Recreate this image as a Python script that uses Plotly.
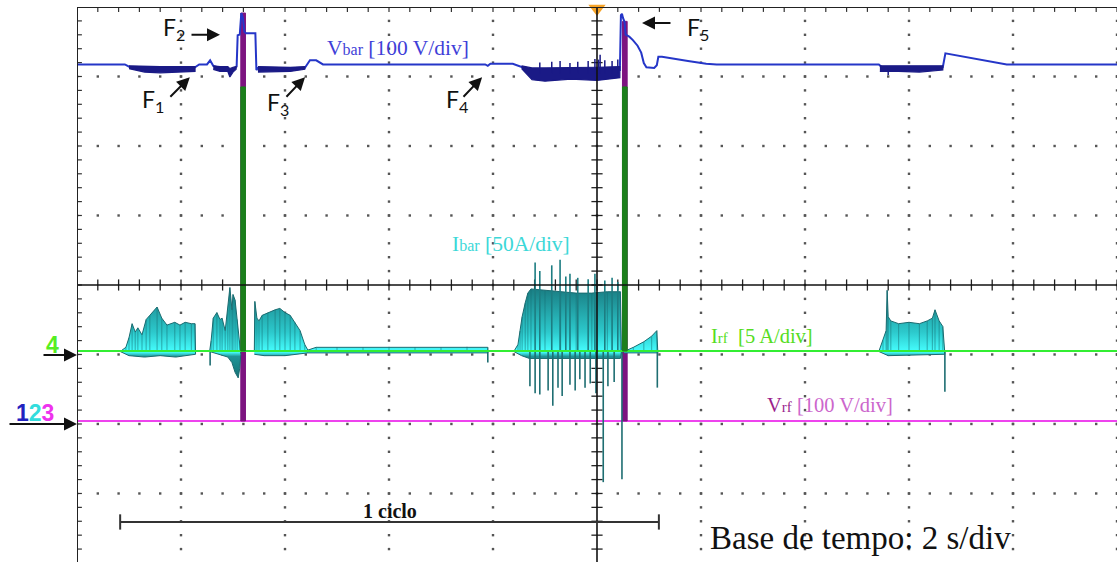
import numpy as np
import plotly.graph_objects as go

# ------------------------------------------------------------------ data
# time base 2 s/div, 10 divisions -> 0..20 s
TIME_PER_DIV = 2.0
N_DIV_X = 10

# Vbar [V] (100 V/div), main trace
vbar_t = [0.00, 0.92, 1.02, 2.27, 2.35, 2.50, 2.56, 2.62, 2.70, 2.90, 2.94, 3.00, 3.07,
          3.09, 3.13, 3.16, 3.19, 3.22, 3.25, 3.43, 3.45, 3.48, 4.38, 4.48, 4.60, 4.73,
          7.85, 7.90, 7.95, 8.38, 8.71, 10.44, 10.46, 10.48, 10.50, 10.53, 10.55, 10.62,
          10.69, 10.78, 10.85, 10.90, 10.95, 11.10, 11.15, 11.18, 11.25, 11.45, 11.75,
          12.10, 12.30, 15.42, 15.48, 16.65, 16.70, 17.88, 20.00]
vbar_v = [513, 513, 509, 509, 513, 513, 519, 511, 509, 508, 500, 506, 510,
          555, 556, 587, 580, 560, 558, 558, 505, 508, 508, 519, 519, 513,
          513, 511, 514, 514, 505, 505, 584, 586, 580, 574, 556, 553,
          548, 540, 530, 515, 509, 508, 512, 524, 524, 522, 518,
          514, 513, 513, 509, 509, 529, 513, 513]

# Vbar noisy segments (upper / lower envelope) [V]
vbar_f1_t = [1.00, 1.30, 1.60, 1.90, 2.27]
vbar_f1_hi = [511, 510, 510, 510, 510]
vbar_f1_lo = [507, 502, 501, 502, 503]
vbar_f2_t = [2.62, 2.75, 2.90, 2.94, 3.00, 3.06]
vbar_f2_hi = [511, 510, 510, 507, 509, 510]
vbar_f2_lo = [506, 503, 503, 495, 502, 506]
vbar_f3_t = [3.48, 3.80, 4.10, 4.38]
vbar_f3_hi = [510, 509, 509, 510]
vbar_f3_lo = [502, 502, 503, 506]
vbar_f4_t = [8.55, 8.75, 9.00, 9.50, 10.00, 10.44]
vbar_f4_hi = [511, 508, 508, 508, 509, 510]
vbar_f4_lo = [507, 491, 489, 492, 490, 494]
vbar_f6_t = [15.44, 15.80, 16.20, 16.65]
vbar_f6_hi = [511, 511, 511, 511]
vbar_f6_lo = [503, 503, 502, 505]
# Vbar spikes inside noisy segments [V]
vbar_spk_t = [8.90, 9.13, 9.29, 9.48, 9.63, 9.83, 9.96, 10.03, 10.06, 10.15, 10.29, 10.40, 15.60]
vbar_spk_hi = [516, 517, 518, 515, 517, 518, 521, 520, 527, 519, 518, 520, 508]
vbar_spk_lo = [500, 500, 500, 500, 500, 500, 500, 500, 500, 500, 500, 500, 498]

# Ibar [A] (50 A/div) bursts: upper envelope, lower envelope
ibar_b1_t = [0.83, 0.94, 1.00, 1.06, 1.12, 1.17, 1.25, 1.33, 1.40, 1.54, 1.63, 1.73,
             1.88, 1.98, 2.08, 2.20, 2.27, 2.28]
ibar_b1_hi = [50, 53, 60, 70, 64, 67, 62, 73, 76, 82, 74, 69, 71, 69, 71, 70, 70, 50]
ibar_b1_lt = [0.83, 1.00, 1.30, 1.60, 1.90, 2.28]
ibar_b1_lo = [50, 47, 46, 47, 46, 48]
ibar_b2_t = [2.55, 2.58, 2.62, 2.69, 2.75, 2.79, 2.85, 2.90, 2.94, 2.98, 3.00, 3.04, 3.08, 3.13, 3.15]
ibar_b2_hi = [50, 58, 74, 78, 73, 74, 65, 80, 96, 80, 91, 87, 73, 58, 50]
ibar_b2_lt = [2.55, 2.90, 2.98, 3.04, 3.10, 3.13, 3.15]
ibar_b2_lo = [50, 46, 42, 35, 31, 38, 48]
ibar_b3_t = [3.41, 3.42, 3.46, 3.50, 3.56, 3.67, 3.81, 3.90, 4.00, 4.10, 4.19, 4.29, 4.38, 4.44]
ibar_b3_hi = [50, 86, 74, 72, 76, 78, 80, 81, 78, 76, 71, 65, 55, 51]
ibar_b3_lt = [3.41, 3.60, 4.00, 4.44]
ibar_b3_lo = [48, 47, 47, 49]
ibar_rp_t = [4.44, 4.60, 5.00, 5.50, 6.00, 6.50, 7.00, 7.50, 7.90]
ibar_rp_hi = [51, 53, 53, 53, 53.5, 53, 53, 53.5, 53]
ibar_rp_lt = [4.44, 7.90]
ibar_rp_lo = [49, 49]
ibar_b4_t = [8.40, 8.48, 8.52, 8.56, 8.62, 8.67, 8.73, 9.00, 9.30, 9.60, 9.90, 10.20, 10.45, 10.47]
ibar_b4_hi = [50, 55, 65, 75, 85, 92, 95, 94, 93, 92, 92, 93, 93, 50]
ibar_b4_lt = [8.40, 8.55, 8.70, 10.45, 10.47]
ibar_b4_lo = [50, 47, 45, 45, 50]
ibar_b5_t = [10.52, 10.70, 10.90, 11.05, 11.15, 11.17]
ibar_b5_hi = [50, 53, 57, 61, 65, 50]
ibar_b5_lt = [10.52, 11.17]
ibar_b5_lo = [49, 49]
ibar_b6_t = [15.42, 15.50, 15.56, 15.58, 15.60, 15.65, 15.80, 16.00, 16.20, 16.35, 16.45, 16.50, 16.58, 16.65, 16.69]
ibar_b6_hi = [50, 58, 65, 94, 75, 72, 70, 71, 70, 72, 74, 80, 72, 68, 50]
ibar_b6_lt = [15.42, 15.60, 16.69]
ibar_b6_lo = [50, 47, 48]
# Ibar upward spikes [A]
ibar_up_t = [8.81, 8.90, 9.13, 9.29, 9.40, 9.48, 9.63, 9.83, 9.96, 10.15, 10.29, 10.40]
ibar_up_hi = [114, 108, 112, 116, 104, 106, 103, 102, 106, 101, 103, 100]
# Ibar downward spikes [A]
ibar_dn_t = [2.56, 7.90, 8.71, 8.81, 8.90, 9.06, 9.15, 9.25, 9.33, 9.48, 9.58, 9.67, 9.77,
             9.87, 9.98, 10.12, 10.21, 10.33, 10.48, 11.16, 16.69]
ibar_dn_lo = [40, 42, 25, 20, 19, 22, 11, 24, 18, 26, 22, 30, 24,
              27, 20, -44, 25, 28, -42, 24, 21]

# Irf [A] (5 A/div): pulses
irf_pulse_t0 = [3.15, 10.49]
irf_pulse_t1 = [3.24, 10.58]
irf_pulse_a = [19, 19]
irf_level = 0.0

# Vrf [V] (100 V/div): pulses
vrf_pulse_t0 = [3.15, 10.49]
vrf_pulse_t1 = [3.24, 10.58]
vrf_pulse_v = [587, 575]
vrf_level = 0.0

# measured cycle [s]
cycle_start = 0.83
cycle_end = 11.19

# ------------------------------------------------------------------ layout constants
Y_TOP, Y_BOT = 4.0, -3.986          # screen divisions shown
GND_123 = -1.957                    # ground marker of channels 1,2,3 (div)
GND_4 = -0.950                      # ground marker of channel 4 (div)
V_DIV, IBAR_DIV, IRF_DIV = 100, 50, 5
X_MAX = TIME_PER_DIV * N_DIV_X
L_MARGIN, PLOT_W = 77, 1040


def rng(gnd, scale):
    return [(Y_BOT - gnd) * scale, (Y_TOP - gnd) * scale]


def poly(t, hi, tl, lo):
    return list(t) + list(tl)[::-1], list(hi) + list(lo)[::-1]


def segs(ts, lo, hi):
    xs, ys = [], []
    for a, b, c in zip(ts, lo, hi):
        xs += [a, a, None]
        ys += [b, c, None]
    return xs, ys


fig = go.Figure()

# ---- Ibar (y3)
ibar_grad = dict(type='vertical', start=20, stop=100,
                 colorscale=[[0.0, '#0f5a5e'], [0.33, '#1f9497'], [0.37, '#46ffff'],
                             [0.55, '#2cc9cc'], [1.0, '#177278']])
bursts = [(ibar_b1_t, ibar_b1_hi, ibar_b1_lt, ibar_b1_lo),
          (ibar_b2_t, ibar_b2_hi, ibar_b2_lt, ibar_b2_lo),
          (ibar_b3_t, ibar_b3_hi, ibar_b3_lt, ibar_b3_lo),
          (ibar_rp_t, ibar_rp_hi, ibar_rp_lt, ibar_rp_lo),
          (ibar_b4_t, ibar_b4_hi, ibar_b4_lt, ibar_b4_lo),
          (ibar_b5_t, ibar_b5_hi, ibar_b5_lt, ibar_b5_lo),
          (ibar_b6_t, ibar_b6_hi, ibar_b6_lt, ibar_b6_lo)]
for t, hi, tl, lo in bursts:
    px_, py_ = poly(t, hi, tl, lo)
    fig.add_trace(go.Scatter(x=px_, y=py_, yaxis='y3', mode='lines', fill='toself',
                             fillgradient=ibar_grad, line=dict(color='#1b6b70', width=1),
                             hoverinfo='skip', showlegend=False))
# vertical streak texture inside the bursts
sx, sy = [], []
for t, hi, tl, lo in bursts:
    a, b = segs(t, [50] * len(t), hi)
    sx += a
    sy += b
fig.add_trace(go.Scatter(x=sx, y=sy, yaxis='y3', mode='lines',
                         line=dict(color='rgba(22,110,115,0.45)', width=1.2),
                         showlegend=False, hoverinfo='skip'))
xs, ys = segs(ibar_up_t, [50] * len(ibar_up_t), ibar_up_hi)
fig.add_trace(go.Scatter(x=xs, y=ys, yaxis='y3', mode='lines',
                         line=dict(color='#1d7d82', width=1.6), showlegend=False, hoverinfo='skip'))
xs, ys = segs(ibar_dn_t, ibar_dn_lo, [50] * len(ibar_dn_t))
fig.add_trace(go.Scatter(x=xs, y=ys, yaxis='y3', mode='lines',
                         line=dict(color='#1e6e72', width=1.6), showlegend=False, hoverinfo='skip'))

# ---- Vrf (y2)
fig.add_trace(go.Scatter(x=[0, X_MAX], y=[vrf_level, vrf_level], yaxis='y2', mode='lines',
                         line=dict(color='#ee44ee', width=2), showlegend=False, hoverinfo='skip'))
for a, b, v in zip(vrf_pulse_t0, vrf_pulse_t1, vrf_pulse_v):
    fig.add_trace(go.Scatter(x=[a, a, b, b, a], y=[vrf_level, v, v, vrf_level, vrf_level],
                             yaxis='y2', mode='lines', fill='toself', fillcolor='#7d1480',
                             line=dict(color='#7d1480', width=1), showlegend=False, hoverinfo='skip'))

# ---- Irf (y4)
fig.add_trace(go.Scatter(x=[0, X_MAX], y=[irf_level, irf_level], yaxis='y4', mode='lines',
                         line=dict(color='#33ee33', width=2), showlegend=False, hoverinfo='skip'))
for a, b, v in zip(irf_pulse_t0, irf_pulse_t1, irf_pulse_a):
    fig.add_trace(go.Scatter(x=[a, a, b, b, a], y=[irf_level, v, v, irf_level, irf_level],
                             yaxis='y4', mode='lines', fill='toself', fillcolor='#1c7f1c',
                             line=dict(color='#1c7f1c', width=1), showlegend=False, hoverinfo='skip'))

# ---- Vbar (y2)
fig.add_trace(go.Scatter(x=vbar_t, y=vbar_v, yaxis='y2', mode='lines',
                         line=dict(color='#2536c8', width=2), showlegend=False, hoverinfo='skip'))
for t, hi, lo in [(vbar_f1_t, vbar_f1_hi, vbar_f1_lo), (vbar_f2_t, vbar_f2_hi, vbar_f2_lo),
                  (vbar_f3_t, vbar_f3_hi, vbar_f3_lo), (vbar_f4_t, vbar_f4_hi, vbar_f4_lo),
                  (vbar_f6_t, vbar_f6_hi, vbar_f6_lo)]:
    px_, py_ = poly(t, hi, t, lo)
    fig.add_trace(go.Scatter(x=px_, y=py_, yaxis='y2', mode='lines', fill='toself',
                             fillcolor='#1a1a86', line=dict(color='#1a1a86', width=1.2),
                             showlegend=False, hoverinfo='skip'))
xs, ys = segs(vbar_spk_t, vbar_spk_lo, vbar_spk_hi)
fig.add_trace(go.Scatter(x=xs, y=ys, yaxis='y2', mode='lines',
                         line=dict(color='#1a1a86', width=1.5), showlegend=False, hoverinfo='skip'))

# ---- graticule (dots and ticks)
minor_x = np.arange(0, X_MAX + 1e-9, TIME_PER_DIV / 5)
minor_y = np.arange(-4, 4 + 1e-9, 0.2)
gx, gy = [], []
for yy in [-3, -2, -1, 1, 2, 3]:
    gx += list(minor_x)
    gy += [yy] * len(minor_x)
for xx in np.arange(TIME_PER_DIV, X_MAX + 1e-9, TIME_PER_DIV):
    if abs(xx - X_MAX / 2) < 1e-6:
        continue
    gx += [xx] * len(minor_y)
    gy += list(minor_y)
fig.add_trace(go.Scatter(x=gx, y=gy, mode='markers',
                         marker=dict(symbol='square', size=2.4, color='#555555'),
                         showlegend=False, hoverinfo='skip'))
fig.add_trace(go.Scatter(x=minor_x, y=[0] * len(minor_x), mode='markers',
                         marker=dict(symbol='line-ns', size=8, line=dict(color='#222', width=1.3)),
                         showlegend=False, hoverinfo='skip'))
fig.add_trace(go.Scatter(x=[X_MAX / 2] * len(minor_y), y=minor_y, mode='markers',
                         marker=dict(symbol='line-ew', size=8, line=dict(color='#222', width=1.3)),
                         showlegend=False, hoverinfo='skip'))
fig.add_trace(go.Scatter(x=[0] * len(minor_y), y=minor_y, mode='markers',
                         marker=dict(symbol='line-ew', size=7, line=dict(color='#333', width=1.2)),
                         showlegend=False, hoverinfo='skip'))
fig.add_trace(go.Scatter(x=minor_x, y=[Y_TOP] * len(minor_x), mode='markers',
                         marker=dict(symbol='line-ns', size=7, line=dict(color='#333', width=1.2)),
                         showlegend=False, hoverinfo='skip'))
# trigger marker
fig.add_trace(go.Scatter(x=[X_MAX / 2], y=[Y_TOP - 0.02], mode='markers', cliponaxis=False,
                         marker=dict(symbol='triangle-down', size=15, color='#f7a428'),
                         showlegend=False, hoverinfo='skip'))

shapes = [
    dict(type='line', xref='x', yref='y', x0=0, x1=X_MAX, y0=0, y1=0,
         line=dict(color='#111', width=1.6), layer='above'),
    dict(type='line', xref='x', yref='y', x0=X_MAX / 2, x1=X_MAX / 2, y0=Y_BOT, y1=Y_TOP,
         line=dict(color='#111', width=1.6), layer='above'),
    dict(type='line', xref='x', yref='y', x0=0, x1=0, y0=Y_BOT, y1=Y_TOP,
         line=dict(color='#222', width=2), layer='above'),
    dict(type='line', xref='x', yref='y', x0=0, x1=X_MAX, y0=Y_TOP, y1=Y_TOP,
         line=dict(color='#222', width=2), layer='above'),
    # 1 ciclo bar
    dict(type='line', xref='x', yref='y', x0=cycle_start, x1=cycle_end, y0=-3.41, y1=-3.41,
         line=dict(color='#333', width=2), layer='above'),
    dict(type='line', xref='x', yref='y', x0=cycle_start, x1=cycle_start, y0=-3.30, y1=-3.52,
         line=dict(color='#333', width=2), layer='above'),
    dict(type='line', xref='x', yref='y', x0=cycle_end, x1=cycle_end, y0=-3.30, y1=-3.52,
         line=dict(color='#333', width=2), layer='above'),
]

SERIF = 'Liberation Serif'
SANS = 'Lato'
ann = []


def txt(x, y, text, size, color, family=SERIF, xanchor='center', yanchor='middle', xref='x'):
    ann.append(dict(x=x, y=y, xref=xref, yref='y', text=text, showarrow=False,
                    font=dict(family=family, size=size, color=color),
                    xanchor=xanchor, yanchor=yanchor))


def arrow(x, y, ax, ay):
    ann.append(dict(x=x, y=y, xref='x', yref='y', text='', showarrow=True, ax=ax, ay=ay,
                    arrowhead=2, arrowsize=1.3, arrowwidth=2, arrowcolor='#111'))


txt(6.17, 3.41, "V<span style='font-size:16px'>bar</span> [100 V/div]", 21.5, '#3f3fd8')
txt(8.35, 0.59, "I<span style='font-size:16px'>bar</span> [50A/div]", 21.5, '#3cd8d8')
txt(13.17, -0.73, "I<span style='font-size:15px'>rf</span>&nbsp;&nbsp;[5 A/div]", 20.5, '#55dd22')
txt(14.48, -1.73, "<span style='color:#9b1f8c'>V</span><span style='color:#9b1f8c;font-size:15px'>rf</span>"
    " <span style='color:#cc66cc'>[100 V/div]</span>", 20.5, '#cc66cc')
txt((cycle_start + cycle_end) / 2, -3.25, "<b>1 ciclo</b>", 20, '#111')
txt(15.06, -3.64, "Base de tempo: 2 s/div", 33, '#111')

for (lx, ly, lab) in [(1.22, 2.90, '1'), (1.62, 3.94, '2'), (3.62, 2.86, '3'),
                      (7.05, 2.90, '4'), (11.70, 3.94, '5')]:
    txt(lx, ly, "F<sub>%s</sub>" % lab, 23, '#111', family=SANS, xanchor='left', yanchor='top')
arrow(2.17, 2.99, -21, 21)
arrow(2.75, 3.60, -30, 0)
arrow(4.385, 2.99, -20, 21)
arrow(7.79, 2.99, -20, 21)
arrow(10.865, 3.77, 30, 0)

# channel ground markers (left of the screen, paper x)
txt((52 - L_MARGIN) / PLOT_W, -0.86, "<b>4</b>", 23, '#55ee22', family='Liberation Sans', xref='paper')
txt((35 - L_MARGIN) / PLOT_W, -1.84,
    "<b><span style='color:#2222c0'>1</span><span style='color:#33dddd'>2</span>"
    "<span style='color:#ee33ee'>3</span></b>", 23, '#111', family='Liberation Sans', xref='paper')
arrow(0, -1.007, -35, 0)
arrow(0, -2.0, -69, 0)

fig.update_layout(
    width=1117, height=562,
    margin=dict(l=L_MARGIN, r=0, t=7, b=0),
    paper_bgcolor='white', plot_bgcolor='white',
    showlegend=False,
    xaxis=dict(range=[0, X_MAX], visible=False, fixedrange=True),
    yaxis=dict(range=[Y_BOT, Y_TOP], visible=False),
    yaxis2=dict(range=rng(GND_123, V_DIV), overlaying='y', visible=False),
    yaxis3=dict(range=rng(GND_123, IBAR_DIV), overlaying='y', visible=False),
    yaxis4=dict(range=rng(GND_4, IRF_DIV), overlaying='y', visible=False),
    shapes=shapes,
    annotations=ann,
)

fig.write_html("out.html", config={'displayModeBar': False},
               post_script="document.body.style.margin='0px';document.body.style.overflow='hidden';")
